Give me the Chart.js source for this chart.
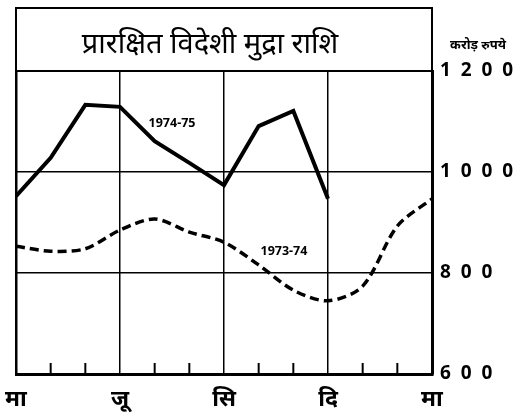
<!DOCTYPE html>
<html>
<head>
<meta charset="utf-8">
<script src="https://cdn.jsdelivr.net/npm/chart.js@4.4.1/dist/chart.umd.min.js"></script>
<style>
    body { margin: 0; background: #fff; }
    #wrap { width: 520px; height: 419px; }
</style>
</head>
<body>
<div id="wrap"><canvas id="graficoReserva" width="520" height="419"></canvas></div>
<script>
// ======================================
// DADOS
// ======================================
const mahine = [0, 1, 2, 3, 4, 5, 6, 7, 8, 9, 10, 11, 12]; // março -> março
const reserva7475 = [952, 1028, 1133, 1129, 1061, 1018, 974, 1091, 1121, 947, null, null, null];
const reserva7374 = [853, 843, 848, 885, 907, 881, 861, 816, 766, 745, 774, 893, 947];

const xTickPos = [0, 3, 6, 9, 12];
const xTickLabels = ['मा', 'जू', 'सि', 'दि', 'मा'];
const yTicks = [600, 800, 1000, 1200];

const titulo = 'प्रारक्षित विदेशी मुद्रा राशि';
const unidade = 'करोड़ रुपये';
const serieNomes = ['1974-75', '1973-74'];

const FONTE = "'Noto Sans', 'DejaVu Sans', sans-serif";

// ======================================
// PLUGIN: caixa do título, marcas e rótulos
// ======================================
const decoracao = {
    id: 'decoracao',
    afterDraw(chart) {
        const { ctx, chartArea, scales } = chart;
        const { left, right, top, bottom } = chartArea;
        ctx.save();
        ctx.strokeStyle = '#000';
        ctx.fillStyle = '#000';

        // caixa do título
        ctx.lineWidth = 2;
        ctx.strokeRect(left, 8, right - left, top - 8);
        ctx.font = '29px ' + FONTE;
        ctx.textAlign = 'center';
        ctx.textBaseline = 'middle';
        ctx.fillText(titulo, 210, 45);

        // unidade
        ctx.font = 'bold 13px ' + FONTE;
        ctx.fillText(unidade, 478, 45);

        // marcas dos meses (para dentro)
        ctx.lineWidth = 2;
        mahine.forEach(m => {
            if (xTickPos.includes(m)) return;
            const px = scales.x.getPixelForValue(m);
            ctx.beginPath();
            ctx.moveTo(px, bottom);
            ctx.lineTo(px, bottom - 11);
            ctx.stroke();
        });

        // nomes das séries
        ctx.font = 'bold 12.5px ' + FONTE;
        ctx.fillText(serieNomes[0], scales.x.getPixelForValue(4.5), scales.y.getPixelForValue(1097));
        ctx.fillText(serieNomes[1], scales.x.getPixelForValue(7.73), scales.y.getPixelForValue(842));
        ctx.restore();
    }
};

const ctx = document.getElementById('graficoReserva');
new Chart(ctx, {
    type: 'line',
    data: {
        datasets: [
            {
                label: serieNomes[0],
                data: mahine.map((m, i) => ({ x: m, y: reserva7475[i] })),
                borderColor: '#000',
                borderWidth: 4,
                pointRadius: 0,
                tension: 0,
                borderJoinStyle: 'miter'
            },
            {
                label: serieNomes[1],
                data: mahine.map((m, i) => ({ x: m, y: reserva7374[i] })),
                borderColor: '#000',
                borderWidth: 3.5,
                borderDash: [9, 5],
                pointRadius: 0,
                tension: 0.3
            }
        ]
    },
    options: {
        responsive: false,
        animation: false,
        layout: { padding: { left: 16, top: 71, right: 0, bottom: 0 } },
        plugins: {
            legend: { display: false },
            tooltip: { enabled: false }
        },
        scales: {
            x: {
                type: 'linear',
                min: 0,
                max: 12,
                afterBuildTicks: scale => { scale.ticks = mahine.map(v => ({ value: v })); },
                afterFit: scale => {
                    scale.height = 45;
                    scale.paddingLeft = 0;
                    scale.paddingRight = 0;
                },
                ticks: {
                    autoSkip: false,
                    maxRotation: 0,
                    padding: 12,
                    color: '#000',
                    font: { family: FONTE, size: 23, weight: 'bold' },
                    callback: v => {
                        const i = xTickPos.indexOf(v);
                        return i >= 0 ? xTickLabels[i] : '';
                    }
                },
                grid: {
                    drawTicks: false,
                    color: c => (xTickPos.includes(c.tick && c.tick.value) ? '#000' : 'rgba(0,0,0,0)'),
                    lineWidth: c => (c.tick && c.tick.value === 0 ? 2.5 : 1.5)
                },
                border: { display: true, color: '#000', width: 3 }
            },
            y: {
                position: 'right',
                min: 600,
                max: 1200,
                afterBuildTicks: scale => { scale.ticks = yTicks.map(v => ({ value: v })); },
                afterFit: scale => {
                    scale.width = 88;
                    scale.paddingTop = 0;
                    scale.paddingBottom = 0;
                },
                ticks: {
                    padding: 8,
                    color: '#000',
                    font: { family: FONTE, size: 19, weight: 'bold' },
                    callback: v => String(v).split('').join('  ')
                },
                grid: {
                    drawTicks: false,
                    color: '#000',
                    lineWidth: 1.5
                },
                border: { display: true, color: '#000', width: 3 }
            }
        }
    },
    plugins: [decoracao]
});
</script>
</body>
</html>
